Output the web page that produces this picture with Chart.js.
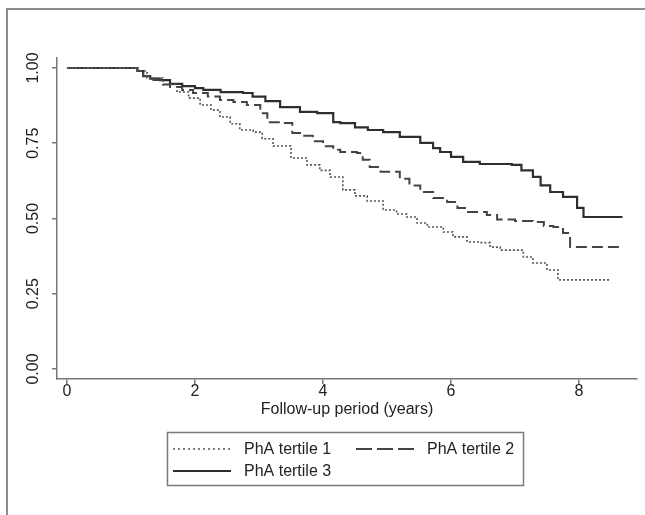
<!DOCTYPE html>
<html>
<head>
    <title>PhA tertiles survival</title>
    <meta name="viewport" content="width=device-width, initial-scale=1">
    <style>
        body { margin: 0; background: #fff; }
        #wrap { position: relative; width: 645px; height: 515px; }
    </style>
    <script src="https://cdn.jsdelivr.net/npm/chart.js"></script>
</head>
<body>
    <div id="wrap"><canvas id="kmChart"></canvas></div>

    <script>
        Chart.defaults.font.family = '"Liberation Sans", Arial, sans-serif';

        // values: follow-up time (years) and survival
        const t1Time = [0, 1.0, 1.1, 1.25, 1.5, 1.72, 1.9, 2.08, 2.25, 2.39, 2.55, 2.7, 2.91, 3.05, 3.22, 3.5, 3.75, 3.95, 4.11, 4.31, 4.5, 4.69, 4.94, 5.15, 5.31, 5.47, 5.63, 5.88, 6.03, 6.25, 6.45, 6.61, 6.77, 7.13, 7.28, 7.5, 7.67, 8.47];
        const t1Surv = [1, 1, 0.99, 0.967, 0.945, 0.92, 0.9, 0.877, 0.86, 0.837, 0.815, 0.794, 0.787, 0.765, 0.741, 0.701, 0.678, 0.66, 0.638, 0.595, 0.575, 0.558, 0.528, 0.515, 0.505, 0.485, 0.472, 0.455, 0.439, 0.422, 0.42, 0.405, 0.395, 0.372, 0.352, 0.329, 0.296, 0.296];

        const t2Time = [0, 1.0, 1.1, 1.19, 1.35, 1.5, 1.61, 1.8, 1.97, 2.2, 2.39, 2.6, 2.81, 3.02, 3.13, 3.38, 3.52, 3.69, 3.84, 4.0, 4.16, 4.27, 4.53, 4.62, 4.73, 4.9, 5.2, 5.35, 5.52, 5.72, 5.94, 6.1, 6.25, 6.56, 6.72, 7.0, 7.28, 7.45, 7.6, 7.75, 7.86, 8.65];
        const t2Surv = [1, 1, 0.99, 0.973, 0.96, 0.945, 0.937, 0.927, 0.917, 0.905, 0.894, 0.887, 0.877, 0.85, 0.82, 0.817, 0.784, 0.775, 0.757, 0.74, 0.728, 0.721, 0.718, 0.695, 0.671, 0.655, 0.632, 0.61, 0.588, 0.568, 0.555, 0.535, 0.522, 0.512, 0.497, 0.492, 0.488, 0.475, 0.472, 0.452, 0.405, 0.405];

        const t3Time = [0, 1.0, 1.1, 1.19, 1.3, 1.45, 1.61, 1.8, 2.0, 2.13, 2.4, 2.75, 2.9, 3.1, 3.33, 3.64, 3.91, 4.16, 4.27, 4.5, 4.7, 4.94, 5.2, 5.52, 5.72, 5.83, 6.0, 6.19, 6.45, 6.95, 7.1, 7.28, 7.4, 7.55, 7.75, 7.97, 8.07, 8.68];
        const t3Surv = [1, 1, 0.99, 0.973, 0.965, 0.96, 0.947, 0.94, 0.933, 0.927, 0.92, 0.917, 0.905, 0.89, 0.87, 0.854, 0.85, 0.82, 0.817, 0.803, 0.794, 0.787, 0.771, 0.751, 0.734, 0.721, 0.705, 0.688, 0.681, 0.678, 0.66, 0.638, 0.61, 0.588, 0.572, 0.535, 0.505, 0.505];

        const seriesLabels = ['PhA tertile 1', 'PhA tertile 2', 'PhA tertile 3'];
        const xTicks = [0, 2, 4, 6, 8];
        const yTicks = [0, 0.25, 0.5, 0.75, 1];

        const toPoints = (ts, ss) => ts.map((t, i) => ({ x: t, y: ss[i] }));

        // page frame + white background
        const framePlugin = {
            id: 'frame',
            beforeDraw(chart) {
                const ctx = chart.ctx;
                ctx.save();
                ctx.fillStyle = '#fff';
                ctx.fillRect(0, 0, chart.width, chart.height);
                ctx.strokeStyle = '#8c8c8c';
                ctx.lineWidth = 2;
                ctx.beginPath();
                ctx.moveTo(7, chart.height);
                ctx.lineTo(7, 9);
                ctx.lineTo(chart.width, 9);
                ctx.stroke();
                ctx.restore();
            }
        };

        // boxed legend under the axis title (two items per row)
        const boxLegend = {
            id: 'boxLegend',
            afterDraw(chart) {
                const ctx = chart.ctx;
                const slots = [[173, 449], [356, 449], [173, 471]];
                ctx.save();
                ctx.strokeStyle = '#7a7a7a';
                ctx.lineWidth = 1.5;
                ctx.setLineDash([]);
                ctx.strokeRect(167.5, 432.5, 356, 53);
                ctx.font = '16px "Liberation Sans", Arial, sans-serif';
                ctx.textBaseline = 'middle';
                chart.data.datasets.forEach((ds, i) => {
                    const [x, y] = slots[i];
                    ctx.strokeStyle = ds.borderColor;
                    ctx.lineWidth = ds.borderWidth;
                    ctx.setLineDash(ds.legendDash || []);
                    ctx.beginPath();
                    ctx.moveTo(x, y);
                    ctx.lineTo(x + 58, y);
                    ctx.stroke();
                    ctx.fillStyle = '#222';
                    ctx.fillText(ds.label, x + 71, y + 1);
                });
                ctx.restore();
            }
        };

        const axisGray = '#777';

        new Chart(document.getElementById('kmChart'), {
            type: 'line',
            data: {
                datasets: [{
                    label: seriesLabels[0],
                    data: toPoints(t1Time, t1Surv),
                    borderColor: '#555',
                    borderWidth: 1.6,
                    borderDash: [2, 2],
                    legendDash: [2, 3],
                }, {
                    label: seriesLabels[1],
                    data: toPoints(t2Time, t2Surv),
                    borderColor: '#444',
                    borderWidth: 2,
                    borderDash: [11, 5],
                    legendDash: [16, 5],
                }, {
                    label: seriesLabels[2],
                    data: toPoints(t3Time, t3Surv),
                    borderColor: '#2e2e2e',
                    borderWidth: 2.2,
                }]
            },
            options: {
                responsive: true,
                maintainAspectRatio: false,
                animation: false,
                datasets: {
                    line: { stepped: 'before', pointRadius: 0, fill: false, tension: 0 }
                },
                layout: { padding: { left: 12, right: 8, top: 58, bottom: 97 } },
                plugins: {
                    legend: { display: false },
                    tooltip: { enabled: false }
                },
                scales: {
                    x: {
                        type: 'linear',
                        min: -0.156,
                        max: 8.906,
                        afterBuildTicks: s => { s.ticks = xTicks.map(v => ({ value: v })); },
                        ticks: {
                            color: '#222',
                            padding: 0,
                            font: { size: 16, lineHeight: 1 },
                            callback: v => String(v)
                        },
                        grid: { drawOnChartArea: false, drawTicks: true, tickLength: 5, color: axisGray, lineWidth: 1.5 },
                        border: { display: true, color: axisGray, width: 1.5 },
                        title: {
                            display: true,
                            text: 'Follow-up period (years)',
                            color: '#222',
                            font: { size: 16, lineHeight: 1 },
                            padding: { top: 2, bottom: 0 }
                        }
                    },
                    y: {
                        min: -0.0332,
                        max: 1.0332,
                        afterBuildTicks: s => { s.ticks = yTicks.map(v => ({ value: v })); },
                        afterFit: s => { s.width = 45; },
                        ticks: {
                            color: '#222',
                            padding: 3,
                            minRotation: 90,
                            maxRotation: 90,
                            crossAlign: 'center',
                            font: { size: 16, lineHeight: 1 },
                            callback: v => v.toFixed(2)
                        },
                        grid: { drawOnChartArea: false, drawTicks: true, tickLength: 5, color: axisGray, lineWidth: 1.5 },
                        border: { display: true, color: axisGray, width: 1.5 }
                    }
                }
            },
            plugins: [framePlugin, boxLegend]
        });
    </script>
</body>
</html>
